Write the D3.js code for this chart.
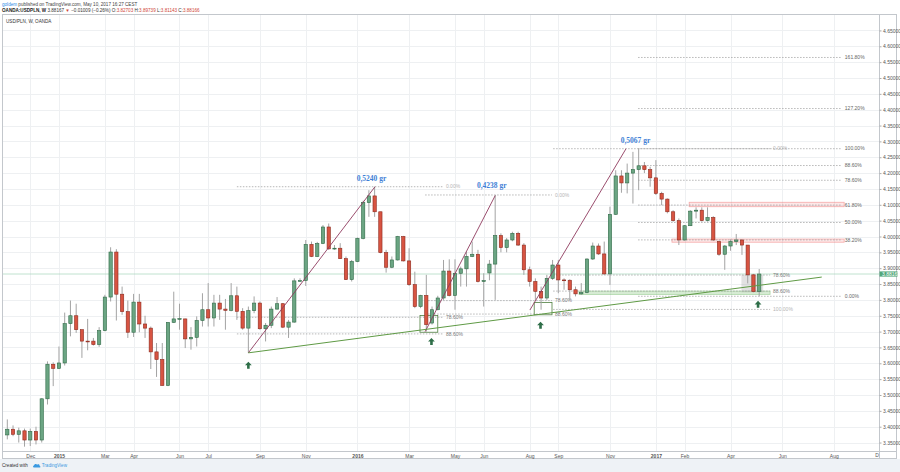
<!DOCTYPE html>
<html><head><meta charset="utf-8">
<script src="https://cdn.jsdelivr.net/npm/d3@7/dist/d3.min.js"></script>
<style>body{margin:0;background:#fff}svg{display:block}</style>
</head><body>
<svg id="c" width="900" height="472"></svg>
<script>
// ---------- DATA (weekly OANDA:USDPLN, first bar = week of 2014-11-03) ----------
const firstWeek = "2014-11-03";
const opens = [3.374,3.392,3.376,3.387,3.358,3.385,3.358,3.488,3.597,3.584,3.601,3.725,3.750,3.706,3.670,3.670,3.659,3.703,3.809,3.951,3.818,3.763,3.698,3.793,3.724,3.711,3.636,3.612,3.530,3.729,3.739,3.740,3.677,3.682,
3.735,3.769,3.743,3.790,3.771,3.767,3.813,3.764,3.711,3.766,3.790,3.709,3.720,3.771,3.788,3.714,3.730,3.860,3.861,3.975,3.937,3.978,4.030,3.961,3.963,3.930,3.864,3.921,3.994,4.107,4.128,4.078,3.949,3.903,3.926,4.000,3.923,3.848,3.779,3.814,
3.727,3.769,3.806,3.891,3.814,3.884,3.898,3.937,3.944,3.858,3.885,3.913,4.003,3.965,3.989,4.010,3.973,3.895,3.858,3.827,3.806,3.868,3.910,3.863,3.862,3.832,3.819,3.823,3.929,3.970,3.945,3.882,4.070,4.191,4.169,4.200,4.211,4.223,4.211,4.185,4.136,4.118,4.078,4.050,3.989,4.034,4.080,4.083,4.050,4.060,3.984,3.944,3.970,3.984,3.989,3.973,3.879,3.82703];
const highs = [3.423,3.404,3.397,3.394,3.394,3.400,3.490,3.606,3.603,3.653,3.760,3.798,3.788,3.706,3.740,3.680,3.714,3.816,3.966,3.960,3.842,3.798,3.819,3.819,3.750,3.716,3.664,3.664,3.729,3.826,3.788,3.741,3.714,3.748,
3.821,3.853,3.816,3.816,3.803,3.853,3.842,3.774,3.779,3.811,3.795,3.727,3.779,3.809,3.790,3.737,3.868,3.868,3.989,3.984,3.983,4.036,4.041,3.973,3.979,3.937,3.926,3.997,4.113,4.146,4.157,4.078,3.958,3.937,4.002,4.002,3.963,3.889,3.816,3.879,
3.779,3.813,3.926,3.928,3.928,3.905,3.952,3.984,3.958,3.884,3.926,4.131,4.010,3.995,4.015,4.015,3.979,3.905,3.868,3.842,3.879,3.926,3.926,3.868,3.865,3.842,3.853,3.931,3.981,3.978,3.984,4.094,4.209,4.209,4.230,4.267,4.277,4.235,4.220,4.241,4.141,4.120,4.083,4.057,4.036,4.083,4.092,4.092,4.092,4.064,3.987,3.973,3.991,4.008,3.991,3.973,3.882,3.89739];
const lows = [3.360,3.370,3.350,3.337,3.339,3.344,3.350,3.470,3.528,3.582,3.593,3.685,3.696,3.617,3.641,3.656,3.652,3.701,3.795,3.735,3.753,3.680,3.683,3.698,3.680,3.582,3.557,3.530,3.528,3.727,3.706,3.648,3.643,3.653,
3.716,3.716,3.716,3.737,3.706,3.764,3.737,3.706,3.633,3.758,3.706,3.669,3.711,3.769,3.711,3.680,3.728,3.858,3.844,3.935,3.935,3.976,3.958,3.958,3.929,3.863,3.858,3.919,3.991,4.062,4.062,3.947,3.886,3.900,3.924,3.921,3.844,3.774,3.774,3.700,
3.722,3.767,3.800,3.811,3.769,3.842,3.842,3.935,3.855,3.779,3.862,3.800,3.950,3.950,3.985,3.970,3.879,3.842,3.800,3.769,3.800,3.863,3.821,3.832,3.800,3.811,3.816,3.821,3.926,3.942,3.879,3.847,4.068,4.138,4.136,4.104,4.146,4.200,4.157,4.131,4.099,4.073,4.047,3.973,3.987,4.033,4.057,4.047,4.047,3.986,3.939,3.895,3.955,3.973,3.942,3.852,3.824,3.81143];
const closes = [3.392,3.376,3.387,3.358,3.385,3.358,3.488,3.597,3.584,3.601,3.725,3.750,3.706,3.670,3.669,3.659,3.703,3.809,3.951,3.818,3.763,3.698,3.793,3.724,3.711,3.636,3.612,3.530,3.729,3.740,3.741,3.677,3.682,3.735,
3.769,3.743,3.790,3.771,3.767,3.813,3.764,3.711,3.766,3.790,3.709,3.720,3.771,3.788,3.714,3.730,3.860,3.861,3.975,3.937,3.978,4.030,3.961,3.963,3.930,3.864,3.921,3.994,4.107,4.128,4.078,3.949,3.903,3.926,4.000,3.923,3.848,3.779,3.814,3.722,
3.769,3.806,3.891,3.814,3.884,3.898,3.937,3.944,3.858,3.861,3.913,4.003,3.965,3.989,4.010,3.973,3.895,3.858,3.827,3.806,3.868,3.910,3.863,3.862,3.832,3.819,3.823,3.929,3.970,3.945,3.882,4.070,4.191,4.169,4.200,4.211,4.223,4.211,4.185,4.136,4.118,4.078,4.050,3.989,4.034,4.080,4.083,4.050,4.060,3.989,3.944,3.970,3.984,3.989,3.973,3.879,3.826,3.88166];
const lastPrice = 3.88167;

const priceTicks = [3.35,3.40,3.45,3.50,3.55,3.60,3.65,3.70,3.75,3.80,3.85,3.90,3.95,4.00,4.05,4.10,4.15,4.20,4.25,4.30,4.35,4.40,4.45,4.50,4.55,4.60,4.65];
const timeTickDates = ["2014-12-01","2015-01-05","2015-03-02","2015-04-06","2015-06-01","2015-07-06","2015-09-07","2015-11-02","2016-01-04","2016-03-07","2016-05-02","2016-06-06","2016-08-01","2016-09-05","2016-11-07","2017-01-02","2017-02-06","2017-04-03","2017-06-05","2017-08-07"];
const timeTickLabels = ["Dec","2015","Mar","Apr","Jun","Jul","Sep","Nov","2016","Mar","May","Jun","Aug","Sep","Nov","2017","Feb","Apr","Jun","Aug"];

// drawings (bar number, price)
const moveLines = [[43,3.633,65.06,4.157],[73.8,3.700,86.0,4.129],[92.05,3.768,108.8,4.277]];
const moveTexts = ["0,5240 gr","0,4238 gr","0,5067 gr"];
const moveTextAt = [[64.45,4.1845],[85.4,4.1625],[110.44,4.3044]];
const supportLine = [43,3.633,142.9,3.872];
const retracements = [
  {hi:4.157, lo:3.633, from:41.0, to:76.9, levels:[0,0.786,0.886]},
  {hi:4.131, lo:3.707, from:73.8, to:95.9, levels:[0,0.786,0.886]},
  {hi:4.277, lo:3.770, from:96.1, to:133.9, levels:[0,0.786,0.886,1]}
];
const extension = {base:3.8114, top:4.277, from:110.9, to:146.4, levels:[0,0.382,0.5,0.618,0.786,0.886,1,1.272,1.618]};
const zones = [
  {a:119.8,b:146.8,p1:4.108,p2:4.094,kind:"pink"},
  {a:116.8,b:146.8,p1:3.992,p2:3.982,kind:"pink"},
  {a:100.6,b:133.9,p1:3.828,p2:3.817,kind:"green"},
  {a:128.9,b:132.7,p1:3.879,p2:3.824,kind:"grey"},
  {a:72.9,b:76.0,p1:3.751,p2:3.698,kind:"box"},
  {a:92.8,b:95.9,p1:3.792,p2:3.753,kind:"box"}
];
const arrows = [[43,3.605],[74.9,3.680],[93.9,3.731],[131.8,3.797]];

// ---------- RENDER ----------
const W = 900, H = 472;
const P = {l:2.5, t:14.5, r:879, b:451};
const FONT = "'Liberation Sans', Arial, sans-serif";
const parse = d3.timeParse("%Y-%m-%d");
const t0 = parse(firstWeek);
const wk = i => new Date(+t0 + (i - 1) * 7 * 864e5);
const bars = closes.map((c, i) => ({d: wk(i + 1), o: opens[i], h: highs[i], l: lows[i], c}));

const x = d3.scaleTime().domain([wk(1), wk(bars.length)]).range([7.3, 759.2]);
const y = d3.scaleLinear().domain([4.0, 3.35]).range([236.5, 236.5 + 0.65 * 317]);
const X = i => x(wk(i));

const svg = d3.select("#c").style("font-family", FONT);
svg.append("rect").attr("width", W).attr("height", H).attr("fill", "#ffffff");
svg.append("rect").attr("x", 0).attr("y", 459).attr("width", W).attr("height", H - 459).attr("fill", "#eef2f6");

svg.append("defs").append("clipPath").attr("id", "pane")
  .append("rect").attr("x", P.l).attr("y", P.t).attr("width", P.r - P.l).attr("height", P.b - P.t);

// grid
const grid = svg.append("g").attr("clip-path", "url(#pane)");
grid.selectAll("line.h").data(priceTicks).join("line")
  .attr("x1", P.l).attr("x2", P.r).attr("y1", d => Math.round(y(d)) + 0.5).attr("y2", d => Math.round(y(d)) + 0.5)
  .attr("stroke", "#eef0f2").attr("stroke-width", 1);
grid.selectAll("line.v").data(timeTickDates).join("line")
  .attr("y1", P.t).attr("y2", P.b).attr("x1", d => Math.round(x(parse(d))) + 0.5).attr("x2", d => Math.round(x(parse(d))) + 0.5)
  .attr("stroke", "#eef0f2").attr("stroke-width", 1);

const pane = svg.append("g").attr("clip-path", "url(#pane)");

// last price line
pane.append("line").attr("x1", P.l).attr("x2", P.r).attr("y1", y(lastPrice)).attr("y2", y(lastPrice))
  .attr("stroke", "#9fd3b6").attr("stroke-width", 0.8).attr("opacity", 0.8);

// zones
const zoneStyle = {
  pink: {fill: "rgba(244,120,120,0.18)", stroke: "rgba(240,120,120,0.6)"},
  green: {fill: "rgba(120,190,110,0.3)", stroke: "rgba(120,190,110,0.5)"},
  grey: {fill: "rgba(150,150,150,0.28)", stroke: "none"},
  box: {fill: "none", stroke: "#4f7f3f"}
};
pane.selectAll("rect.zone").data(zones).join("rect")
  .attr("x", d => X(d.a)).attr("width", d => X(d.b) - X(d.a))
  .attr("y", d => y(d.p1)).attr("height", d => y(d.p2) - y(d.p1))
  .attr("fill", d => zoneStyle[d.kind].fill).attr("stroke", d => zoneStyle[d.kind].stroke).attr("stroke-width", 0.8);

// fib levels
function fibLevel(g, price, from, to, label, col) {
  g.append("line").attr("x1", X(from)).attr("x2", X(to)).attr("y1", y(price)).attr("y2", y(price))
    .attr("stroke", "#9a9a9a").attr("stroke-width", 0.7).attr("stroke-dasharray", "1.5,1.5");
  g.append("text").attr("x", X(to) + 3).attr("y", y(price)).attr("dy", "0.35em")
    .attr("font-size", 5).attr("fill", col).text(label);
}
const fibG = pane.append("g");
retracements.forEach(f => f.levels.forEach(l => {
  const light = (l === 0 || l === 1);
  fibLevel(fibG, f.hi - l * (f.hi - f.lo), f.from, f.to, (l * 100).toFixed(2) + "%", light ? "#b5b5b5" : "#777");
}));
extension.levels.forEach(l => {
  fibLevel(fibG, extension.base + l * (extension.top - extension.base), extension.from, extension.to, (l * 100).toFixed(2) + "%", "#666");
});

// candles
const cg = pane.append("g");
const bw = 3.3;
cg.selectAll("line.w").data(bars).join("line")
  .attr("x1", d => x(d.d)).attr("x2", d => x(d.d)).attr("y1", d => y(d.h)).attr("y2", d => y(d.l))
  .attr("stroke", "#a3a3a3").attr("stroke-width", 1);
cg.selectAll("rect.b").data(bars).join("rect")
  .attr("x", d => x(d.d) - bw / 2).attr("width", bw)
  .attr("y", d => y(Math.max(d.o, d.c)))
  .attr("height", d => Math.max(0.8, Math.abs(y(d.o) - y(d.c))))
  .attr("fill", d => d.c >= d.o ? "#6ba583" : "#d75442")
  .attr("stroke", d => d.c >= d.o ? "#2f6a46" : "#8e2a1e").attr("stroke-width", 0.6);

// trend lines
pane.selectAll("line.mv").data(moveLines).join("line")
  .attr("x1", d => X(d[0])).attr("y1", d => y(d[1])).attr("x2", d => X(d[2])).attr("y2", d => y(d[3]))
  .attr("stroke", "#8e3a5e").attr("stroke-width", 0.9);
pane.append("line")
  .attr("x1", X(supportLine[0])).attr("y1", y(supportLine[1])).attr("x2", X(supportLine[2])).attr("y2", y(supportLine[3]))
  .attr("stroke", "#5f9a45").attr("stroke-width", 1);
pane.selectAll("text.mv").data(moveTexts).join("text")
  .attr("x", (d, i) => X(moveTextAt[i][0])).attr("y", (d, i) => y(moveTextAt[i][1])).attr("dy", "0.35em")
  .attr("text-anchor", "middle").attr("font-family", "'Liberation Serif','Times New Roman',serif")
  .attr("font-weight", "bold").attr("font-size", 7.5).attr("fill", "#3f7fd6").text(d => d);

// arrows
pane.selectAll("path.ar").data(arrows).join("path")
  .attr("transform", d => `translate(${X(d[0])},${y(d[1])})`)
  .attr("d", "M0,0 L3.4,3.6 L1.3,3.6 L1.3,7 L-1.3,7 L-1.3,3.6 L-3.4,3.6 Z")
  .attr("fill", "#2e6e48");

// pane title
svg.append("text").attr("x", 6).attr("y", 21.7).attr("dy", "0.35em").attr("font-size", 4.6).attr("fill", "#333").text("USD/PLN, W, OANDA");

// frame and axes
svg.append("rect").attr("x", 2.5).attr("y", 14.5).attr("width", 894).attr("height", 444)
  .attr("fill", "none").attr("stroke", "#c3c7cc").attr("stroke-width", 1);
svg.append("line").attr("x1", P.r + 0.5).attr("x2", P.r + 0.5).attr("y1", 14.5).attr("y2", 458.5).attr("stroke", "#c3c7cc");
svg.append("line").attr("x1", 2.5).attr("x2", 896.5).attr("y1", P.b + 0.5).attr("y2", P.b + 0.5).attr("stroke", "#c3c7cc");

const yAxis = d3.axisRight(y).tickValues(priceTicks).tickSize(2).tickPadding(1.5).tickFormat(d3.format(".5f"));
const ya = svg.append("g").attr("transform", `translate(${P.r + 0.5},0)`).call(yAxis);
ya.select(".domain").remove();
ya.selectAll("line").attr("stroke", "#aaa");
ya.selectAll("text").attr("font-size", 5).attr("fill", "#555").attr("font-family", FONT);

const xAxis = d3.axisBottom(x).tickValues(timeTickDates.map(parse)).tickSize(0).tickPadding(2.6)
  .tickFormat((d, i) => timeTickLabels[i]);
const xa = svg.append("g").attr("transform", `translate(0,${P.b + 0.5})`).call(xAxis);
xa.select(".domain").remove();
xa.selectAll("text").attr("font-size", 5).attr("fill", "#555").attr("font-family", FONT)
  .attr("font-weight", (d, i) => /^\d{4}$/.test(timeTickLabels[i]) ? "bold" : "normal");
svg.append("text").attr("x", 877).attr("y", 455.3).attr("dy", "0.35em").attr("text-anchor", "middle")
  .attr("font-size", 5).attr("fill", "#555").text("D");

// last price label
const lp = svg.append("g");
lp.append("rect").attr("x", P.r + 0.5).attr("y", y(lastPrice) - 2.6).attr("width", 18).attr("height", 5.2).attr("fill", "#53a77a");
lp.append("text").attr("x", P.r + 3).attr("y", y(lastPrice)).attr("dy", "0.35em").attr("font-size", 5).attr("fill", "#fff").text(lastPrice.toFixed(5));

// header
const h1 = svg.append("text").attr("x", 2).attr("y", 4.3).attr("dy", "0.35em").attr("font-size", 4.6).attr("fill", "#444");
h1.append("tspan").attr("fill", "#2b8ae6").text("goldem");
h1.append("tspan").text(" published on TradingView.com, May 10, 2017 16:27 CEST");
const h2 = svg.append("text").attr("x", 2).attr("y", 10.4).attr("dy", "0.35em").attr("font-size", 4.6).attr("fill", "#333");
const red = "#d0473a";
[["OANDA:USDPLN, W ", "#222", "bold"], [" 3.88167 ", "#333"], ["▼", red], [" −0.01009 (−0.26%) ", "#333"],
 ["O:", "#333"], ["3.82703", red], [" H:", "#333"], ["3.89739", red], [" L:", "#333"], ["3.81143", red], [" C:", "#333"], ["3.88166", red]]
  .forEach(s => h2.append("tspan").attr("fill", s[1]).attr("font-weight", s[2] || "normal").text(s[0]));

// footer
const ft = svg.append("g");
ft.append("text").attr("x", 2).attr("y", 465.6).attr("dy", "0.35em").attr("font-size", 4.6).attr("fill", "#333").text("Created with");
ft.append("path").attr("transform", "translate(33,463.4)")
  .attr("d", "M1,4.2 C-0.3,4.2 -0.3,2.2 1,2.2 C1.2,0.6 3.4,0.2 4.2,1.4 C5.2,0.4 7,1.2 6.6,2.6 C7.8,2.8 7.6,4.2 6.6,4.2 Z")
  .attr("fill", "#3b9ae1");
ft.append("text").attr("x", 41.7).attr("y", 465.6).attr("dy", "0.35em").attr("font-size", 4.6).attr("fill", "#3b9ae1").text("TradingView");
</script>
</body></html>
